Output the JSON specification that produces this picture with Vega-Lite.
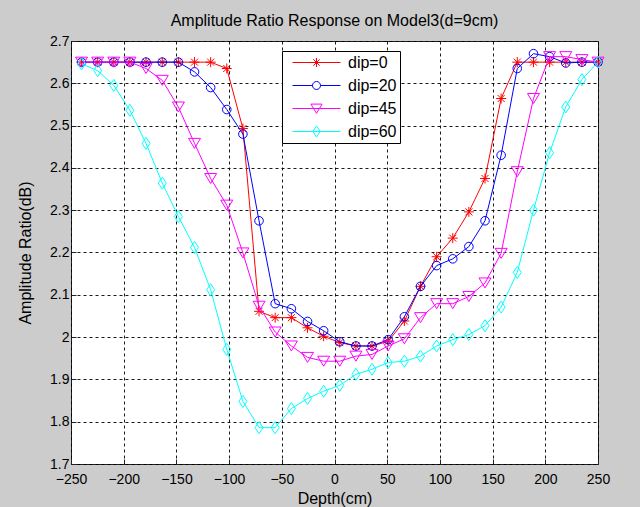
{
  "$schema": "https://vega.github.io/schema/vega-lite/v6.json",
  "width": 527,
  "height": 423,
  "autosize": {"type": "none"},
  "padding": {"left": 71, "top": 41, "right": 42, "bottom": 43},
  "background": "#cccccc",
  "title": {"text": "Amplitude Ratio Response on Model3(d=9cm)", "font": "Liberation Sans", "fontSize": 16, "fontWeight": "normal", "color": "#000", "offset": 5},
  "config": {
    "view": {"stroke": "#222", "fill": "#ffffff", "strokeWidth": 1},
    "axis": {"labelFont": "Liberation Sans", "labelFontSize": 14, "labelColor": "#000", "titleFont": "Liberation Sans", "titleFontSize": 16, "titleFontWeight": "normal", "titleColor": "#000", "grid": true, "gridColor": "#000", "gridDash": [3, 3], "gridOpacity": 0.9, "gridWidth": 1, "domain": false, "ticks": true, "tickSize": -5, "tickColor": "#222", "labelFlush": false, "labelOverlap": false, "labelBound": false},
    "legend": {"title": null, "orient": "none", "legendX": 211, "legendY": 10, "padding": 3, "strokeColor": "#000", "fillColor": "#ffffff", "labelFont": "Liberation Sans", "labelFontSize": 16, "labelColor": "#000", "symbolSize": 256, "symbolStrokeWidth": 1, "symbolOpacity": 1, "symbolOffset": 23, "labelOffset": 23, "rowPadding": 6}
  },
  "data": {"values": [
    {"depth": -240, "ratio": 2.65, "series": "dip=0"},
    {"depth": -224.7, "ratio": 2.65, "series": "dip=0"},
    {"depth": -209.4, "ratio": 2.65, "series": "dip=0"},
    {"depth": -194.1, "ratio": 2.65, "series": "dip=0"},
    {"depth": -178.8, "ratio": 2.65, "series": "dip=0"},
    {"depth": -163.4, "ratio": 2.65, "series": "dip=0"},
    {"depth": -148.1, "ratio": 2.65, "series": "dip=0"},
    {"depth": -132.8, "ratio": 2.65, "series": "dip=0"},
    {"depth": -117.5, "ratio": 2.65, "series": "dip=0"},
    {"depth": -102.2, "ratio": 2.635, "series": "dip=0"},
    {"depth": -86.9, "ratio": 2.493, "series": "dip=0"},
    {"depth": -71.6, "ratio": 2.061, "series": "dip=0"},
    {"depth": -56.3, "ratio": 2.046, "series": "dip=0"},
    {"depth": -40.9, "ratio": 2.046, "series": "dip=0"},
    {"depth": -25.6, "ratio": 2.022, "series": "dip=0"},
    {"depth": -10.3, "ratio": 2.002, "series": "dip=0"},
    {"depth": 5, "ratio": 1.987, "series": "dip=0"},
    {"depth": 20.3, "ratio": 1.979, "series": "dip=0"},
    {"depth": 35.6, "ratio": 1.979, "series": "dip=0"},
    {"depth": 50.9, "ratio": 1.99, "series": "dip=0"},
    {"depth": 66.3, "ratio": 2.038, "series": "dip=0"},
    {"depth": 81.6, "ratio": 2.12, "series": "dip=0"},
    {"depth": 96.9, "ratio": 2.19, "series": "dip=0"},
    {"depth": 112.2, "ratio": 2.234, "series": "dip=0"},
    {"depth": 127.5, "ratio": 2.296, "series": "dip=0"},
    {"depth": 142.8, "ratio": 2.375, "series": "dip=0"},
    {"depth": 158.1, "ratio": 2.564, "series": "dip=0"},
    {"depth": 173.4, "ratio": 2.65, "series": "dip=0"},
    {"depth": 188.8, "ratio": 2.65, "series": "dip=0"},
    {"depth": 204.1, "ratio": 2.65, "series": "dip=0"},
    {"depth": 219.4, "ratio": 2.65, "series": "dip=0"},
    {"depth": 234.7, "ratio": 2.65, "series": "dip=0"},
    {"depth": 250, "ratio": 2.65, "series": "dip=0"},

    {"depth": -240, "ratio": 2.65, "series": "dip=20"},
    {"depth": -224.7, "ratio": 2.65, "series": "dip=20"},
    {"depth": -209.4, "ratio": 2.65, "series": "dip=20"},
    {"depth": -194.1, "ratio": 2.65, "series": "dip=20"},
    {"depth": -178.8, "ratio": 2.65, "series": "dip=20"},
    {"depth": -163.4, "ratio": 2.65, "series": "dip=20"},
    {"depth": -148.1, "ratio": 2.65, "series": "dip=20"},
    {"depth": -132.8, "ratio": 2.627, "series": "dip=20"},
    {"depth": -117.5, "ratio": 2.59, "series": "dip=20"},
    {"depth": -102.2, "ratio": 2.538, "series": "dip=20"},
    {"depth": -86.9, "ratio": 2.48, "series": "dip=20"},
    {"depth": -71.6, "ratio": 2.275, "series": "dip=20"},
    {"depth": -56.3, "ratio": 2.079, "series": "dip=20"},
    {"depth": -40.9, "ratio": 2.067, "series": "dip=20"},
    {"depth": -25.6, "ratio": 2.037, "series": "dip=20"},
    {"depth": -10.3, "ratio": 2.015, "series": "dip=20"},
    {"depth": 5, "ratio": 1.989, "series": "dip=20"},
    {"depth": 20.3, "ratio": 1.979, "series": "dip=20"},
    {"depth": 35.6, "ratio": 1.979, "series": "dip=20"},
    {"depth": 50.9, "ratio": 1.994, "series": "dip=20"},
    {"depth": 66.3, "ratio": 2.048, "series": "dip=20"},
    {"depth": 81.6, "ratio": 2.12, "series": "dip=20"},
    {"depth": 96.9, "ratio": 2.169, "series": "dip=20"},
    {"depth": 112.2, "ratio": 2.185, "series": "dip=20"},
    {"depth": 127.5, "ratio": 2.214, "series": "dip=20"},
    {"depth": 142.8, "ratio": 2.275, "series": "dip=20"},
    {"depth": 158.1, "ratio": 2.43, "series": "dip=20"},
    {"depth": 173.4, "ratio": 2.635, "series": "dip=20"},
    {"depth": 188.8, "ratio": 2.67, "series": "dip=20"},
    {"depth": 204.1, "ratio": 2.663, "series": "dip=20"},
    {"depth": 219.4, "ratio": 2.648, "series": "dip=20"},
    {"depth": 234.7, "ratio": 2.65, "series": "dip=20"},
    {"depth": 250, "ratio": 2.65, "series": "dip=20"},

    {"depth": -240, "ratio": 2.65, "series": "dip=45"},
    {"depth": -224.7, "ratio": 2.65, "series": "dip=45"},
    {"depth": -209.4, "ratio": 2.65, "series": "dip=45"},
    {"depth": -194.1, "ratio": 2.65, "series": "dip=45"},
    {"depth": -178.8, "ratio": 2.635, "series": "dip=45"},
    {"depth": -163.4, "ratio": 2.607, "series": "dip=45"},
    {"depth": -148.1, "ratio": 2.544, "series": "dip=45"},
    {"depth": -132.8, "ratio": 2.458, "series": "dip=45"},
    {"depth": -117.5, "ratio": 2.375, "series": "dip=45"},
    {"depth": -102.2, "ratio": 2.312, "series": "dip=45"},
    {"depth": -86.9, "ratio": 2.199, "series": "dip=45"},
    {"depth": -71.6, "ratio": 2.073, "series": "dip=45"},
    {"depth": -56.3, "ratio": 2.012, "series": "dip=45"},
    {"depth": -40.9, "ratio": 1.979, "series": "dip=45"},
    {"depth": -25.6, "ratio": 1.952, "series": "dip=45"},
    {"depth": -10.3, "ratio": 1.943, "series": "dip=45"},
    {"depth": 5, "ratio": 1.943, "series": "dip=45"},
    {"depth": 20.3, "ratio": 1.955, "series": "dip=45"},
    {"depth": 35.6, "ratio": 1.959, "series": "dip=45"},
    {"depth": 50.9, "ratio": 1.979, "series": "dip=45"},
    {"depth": 66.3, "ratio": 1.996, "series": "dip=45"},
    {"depth": 81.6, "ratio": 2.046, "series": "dip=45"},
    {"depth": 96.9, "ratio": 2.079, "series": "dip=45"},
    {"depth": 112.2, "ratio": 2.079, "series": "dip=45"},
    {"depth": 127.5, "ratio": 2.096, "series": "dip=45"},
    {"depth": 142.8, "ratio": 2.128, "series": "dip=45"},
    {"depth": 158.1, "ratio": 2.198, "series": "dip=45"},
    {"depth": 173.4, "ratio": 2.391, "series": "dip=45"},
    {"depth": 188.8, "ratio": 2.564, "series": "dip=45"},
    {"depth": 204.1, "ratio": 2.663, "series": "dip=45"},
    {"depth": 219.4, "ratio": 2.663, "series": "dip=45"},
    {"depth": 234.7, "ratio": 2.656, "series": "dip=45"},
    {"depth": 250, "ratio": 2.65, "series": "dip=45"},

    {"depth": -240, "ratio": 2.646, "series": "dip=60"},
    {"depth": -224.7, "ratio": 2.63, "series": "dip=60"},
    {"depth": -209.4, "ratio": 2.595, "series": "dip=60"},
    {"depth": -194.1, "ratio": 2.536, "series": "dip=60"},
    {"depth": -178.8, "ratio": 2.458, "series": "dip=60"},
    {"depth": -163.4, "ratio": 2.364, "series": "dip=60"},
    {"depth": -148.1, "ratio": 2.285, "series": "dip=60"},
    {"depth": -132.8, "ratio": 2.212, "series": "dip=60"},
    {"depth": -117.5, "ratio": 2.112, "series": "dip=60"},
    {"depth": -102.2, "ratio": 1.971, "series": "dip=60"},
    {"depth": -86.9, "ratio": 1.848, "series": "dip=60"},
    {"depth": -71.6, "ratio": 1.786, "series": "dip=60"},
    {"depth": -56.3, "ratio": 1.786, "series": "dip=60"},
    {"depth": -40.9, "ratio": 1.831, "series": "dip=60"},
    {"depth": -25.6, "ratio": 1.855, "series": "dip=60"},
    {"depth": -10.3, "ratio": 1.872, "series": "dip=60"},
    {"depth": 5, "ratio": 1.886, "series": "dip=60"},
    {"depth": 20.3, "ratio": 1.912, "series": "dip=60"},
    {"depth": 35.6, "ratio": 1.924, "series": "dip=60"},
    {"depth": 50.9, "ratio": 1.94, "series": "dip=60"},
    {"depth": 66.3, "ratio": 1.943, "series": "dip=60"},
    {"depth": 81.6, "ratio": 1.955, "series": "dip=60"},
    {"depth": 96.9, "ratio": 1.979, "series": "dip=60"},
    {"depth": 112.2, "ratio": 1.994, "series": "dip=60"},
    {"depth": 127.5, "ratio": 2.006, "series": "dip=60"},
    {"depth": 142.8, "ratio": 2.027, "series": "dip=60"},
    {"depth": 158.1, "ratio": 2.071, "series": "dip=60"},
    {"depth": 173.4, "ratio": 2.153, "series": "dip=60"},
    {"depth": 188.8, "ratio": 2.3, "series": "dip=60"},
    {"depth": 204.1, "ratio": 2.436, "series": "dip=60"},
    {"depth": 219.4, "ratio": 2.544, "series": "dip=60"},
    {"depth": 234.7, "ratio": 2.609, "series": "dip=60"},
    {"depth": 250, "ratio": 2.65, "series": "dip=60"}
  ]},
  "encoding": {
    "x": {"field": "depth", "type": "quantitative", "scale": {"domain": [-250, 250], "nice": false, "zero": false},
      "axis": {"title": "Depth(cm)", "values": [-250, -200, -150, -100, -50, 0, 50, 100, 150, 200, 250], "labelPadding": 13, "titlePadding": 4}},
    "y": {"field": "ratio", "type": "quantitative", "scale": {"domain": [1.7, 2.7], "nice": false, "zero": false},
      "axis": {"title": "Amplitude Ratio(dB)", "values": [1.7, 1.8, 1.9, 2, 2.1, 2.2, 2.3, 2.4, 2.5, 2.6, 2.7], "labelExpr": "format(datum.value, '~g')", "labelPadding": 7, "titlePadding": 16}}
  },
  "layer": [
    {
      "transform": [{"filter": "datum.series === 'dip=0'"}],
      "mark": {"type": "line", "color": "#ff0000", "strokeWidth": 1,
        "point": {"filled": false, "strokeWidth": 1, "size": 100, "opacity": 1, "stroke": "#ff0000", "shape": "M-1,0L1,0M0,-1L0,1M-0.7,-0.7L0.7,0.7M-0.7,0.7L0.7,-0.7"}}
    },
    {
      "transform": [{"filter": "datum.series === 'dip=20'"}],
      "mark": {"type": "line", "color": "#0000ff", "strokeWidth": 1,
        "point": {"filled": false, "strokeWidth": 1, "size": 100, "opacity": 1, "stroke": "#0000ff", "shape": "M-0.86,0A0.86,0.86,0,1,1,0.86,0A0.86,0.86,0,1,1,-0.86,0Z"}}
    },
    {
      "transform": [{"filter": "datum.series === 'dip=45'"}],
      "mark": {"type": "line", "color": "#ff00ff", "strokeWidth": 1,
        "point": {"filled": false, "strokeWidth": 1, "size": 100, "opacity": 1, "stroke": "#ff00ff", "shape": "M-1.2,-1L1.2,-1L0,1Z"}}
    },
    {
      "transform": [{"filter": "datum.series === 'dip=60'"}],
      "mark": {"type": "line", "color": "#00ffff", "strokeWidth": 1,
        "point": {"filled": false, "strokeWidth": 1, "size": 100, "opacity": 1, "stroke": "#00ffff", "shape": "M0,-1.2L0.8,0L0,1.2L-0.8,0Z"}}
    },
    {
      "mark": {"type": "point", "filled": false, "strokeWidth": 1, "size": 256, "opacity": 0},
      "encoding": {
        "stroke": {"field": "series", "type": "nominal",
          "scale": {"domain": ["dip=0", "dip=20", "dip=45", "dip=60"], "range": ["#ff0000", "#0000ff", "#ff00ff", "#00ffff"]}},
        "shape": {"field": "series", "type": "nominal",
          "scale": {"domain": ["dip=0", "dip=20", "dip=45", "dip=60"], "range": [
            "M-3,0L3,0M-0.56,0L0.56,0M0,-0.56L0,0.56M-0.4,-0.4L0.4,0.4M-0.4,0.4L0.4,-0.4",
            "M-3,0L-0.5,0M0.5,0L3,0M-0.5,0A0.5,0.5,0,1,1,0.5,0A0.5,0.5,0,1,1,-0.5,0Z",
            "M-3,0L3,0M-0.7,-0.55L0.7,-0.55L0,0.6Z",
            "M-3,0L3,0M0,-0.7L0.45,0L0,0.7L-0.45,0Z"]}}
      }
    }
  ]
}
